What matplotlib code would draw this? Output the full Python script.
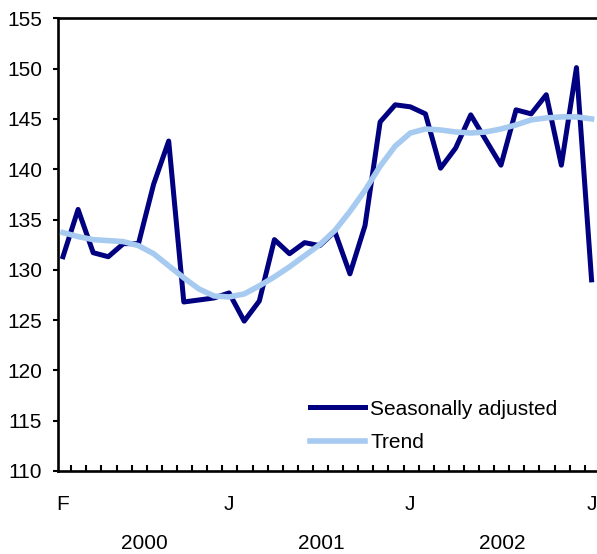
import numpy as np
import matplotlib
matplotlib.use('Agg')
import matplotlib.pyplot as plt

plt.rcParams['font.family'] = ['Liberation Sans', 'DejaVu Sans']

# monthly data, Feb 2000 .. Jan 2003
seasonally_adjusted = [131.3, 136.0, 131.7, 131.3, 132.6, 132.6, 138.5, 142.8, 126.8,
                       127.0, 127.2, 127.7, 124.9, 126.9, 133.0, 131.6, 132.7, 132.4,
                       133.8, 129.6, 134.4, 144.7, 146.4, 146.2, 145.5, 140.1, 142.1,
                       145.4, 142.9, 140.4, 145.9, 145.5, 147.4, 140.4, 150.1, 129.0]
trend = [133.7, 133.3, 133.0, 132.9, 132.8, 132.4, 131.6, 130.4, 129.2,
         128.1, 127.4, 127.3, 127.6, 128.4, 129.3, 130.3, 131.4, 132.5,
         133.9, 135.8, 137.9, 140.3, 142.3, 143.6, 144.0, 143.9, 143.7,
         143.6, 143.7, 144.0, 144.4, 144.9, 145.1, 145.2, 145.2, 145.0]
month_labels = {0: 'F', 11: 'J', 23: 'J', 35: 'J'}
year_labels = {5.4: '2000', 17.1: '2001', 29.1: '2002'}

x = np.arange(len(seasonally_adjusted))
fs = 15

fig = plt.figure(figsize=(5.97, 5.54), dpi=100)
W, H = 597, 554
ax = fig.add_axes([58 / W, 1 - 471 / H, (597 - 58) / W, (471 - 18.3) / H])

ax.plot(x, seasonally_adjusted, color='#000080', lw=3.6, label='Seasonally adjusted',
        zorder=3)
ax.plot(x, trend, color='#A6CAF0', lw=4.0, label='Trend', zorder=4)

ax.set_xlim(-0.33, 35.36)
ax.set_ylim(110, 155)
ax.set_yticks(np.arange(110, 156, 5))
ax.set_xticks(x[:-1] + 0.55)
ax.set_xticklabels([])
ax.tick_params(axis='x', direction='in', length=4, width=1.5)
ax.tick_params(axis='y', direction='out', length=3.6, width=1.5, pad=8, labelsize=fs)

for s in ['left', 'bottom', 'top']:
    ax.spines[s].set_linewidth(1.9)
ax.spines['right'].set_visible(False)

for i, t in month_labels.items():
    ax.text(i, -0.075, t, transform=ax.get_xaxis_transform(), ha='center', va='center',
            fontsize=fs)
for i, t in year_labels.items():
    ax.text(i, -0.16, t, transform=ax.get_xaxis_transform(), ha='center', va='center',
            fontsize=fs)

ax.legend(loc='lower left', bbox_to_anchor=(0.4675, 0.042), frameon=False, fontsize=fs,
          handlelength=2.65, handletextpad=0.24, labelspacing=0.69, borderpad=0,
          borderaxespad=0)

fig.savefig('out.png', dpi=100)
